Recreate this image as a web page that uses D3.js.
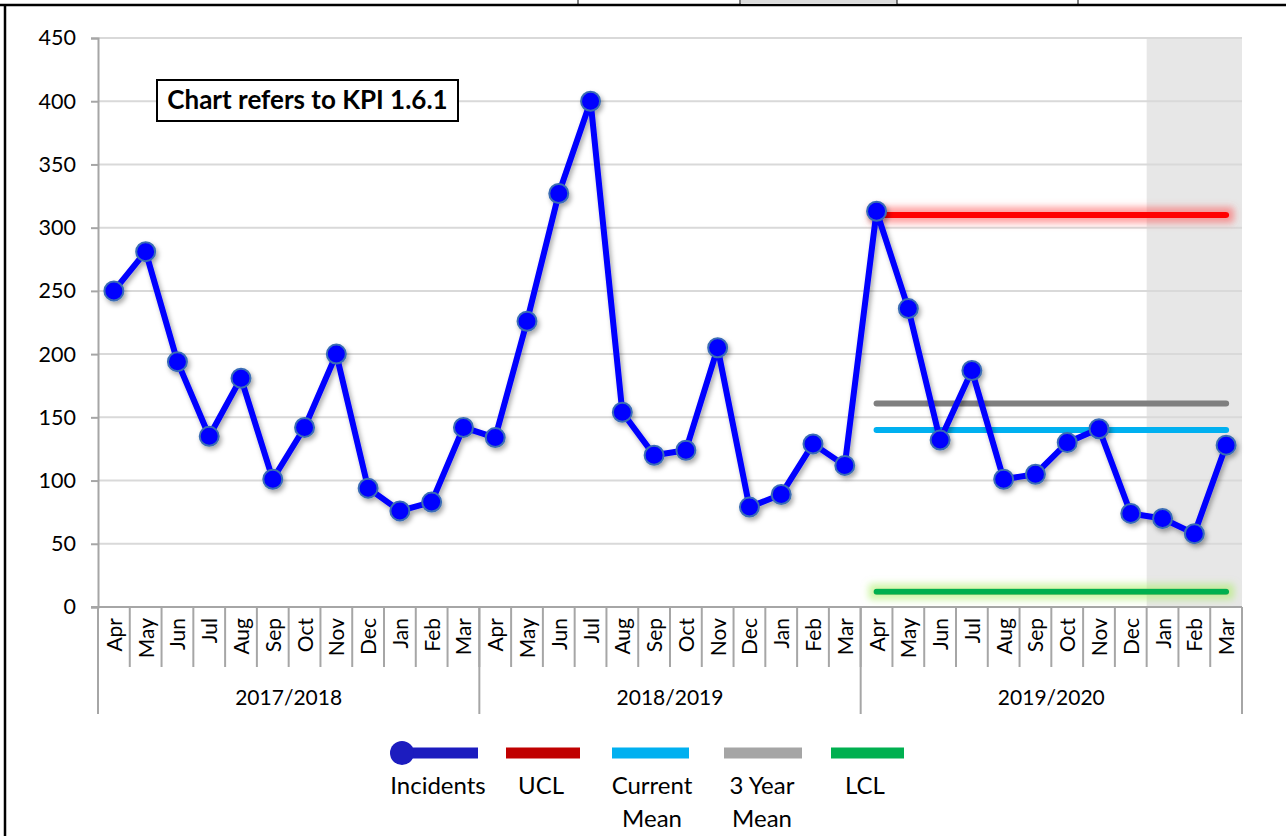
<!DOCTYPE html>
<html>
<head>
<meta charset="utf-8">
<script src="https://cdn.jsdelivr.net/npm/d3@7"></script>
<style>
  body { margin: 0; background: #fff; }
  text { font-family: Lato, "Noto Sans", sans-serif; fill: #000; }
</style>
</head>
<body>
<div class="Chart"></div>
<script>
// SPC chart - monthly incidents with control limits

let months = ["Apr","May","Jun","Jul","Aug","Sep","Oct","Nov","Dec","Jan","Feb","Mar"];
let years = ["2017/2018", "2018/2019", "2019/2020"];

let incidents = [
  250, 281, 194, 135, 181, 101, 142, 200, 94, 76, 83, 142,
  134, 226, 327, 400, 154, 120, 124, 205, 79, 89, 129, 112,
  313, 236, 132, 187, 101, 105, 130, 141, 74, 70, 58, 128
];

let ucl = 310;
let currentMean = 140;
let threeYearMean = 161;
let lcl = 12;

let yTicks = [0, 50, 100, 150, 200, 250, 300, 350, 400, 450];

let legendItems = ["Incidents", "UCL", "Current Mean", "3 Year Mean", "LCL"];

let svgWidth = 1286;
let svgHeight = 836;

let margin = { top: 38, left: 98, right: 44, bottom: 229 };
let width = svgWidth - margin.left - margin.right;
let height = svgHeight - margin.top - margin.bottom;

let svg = d3.select(".Chart")
  .append("svg")
  .attr("width", svgWidth)
  .attr("height", svgHeight);

// filters for the shadows / glows
let defs = svg.append("defs");
let shadow = defs.append("filter").attr("id", "shadow")
  .attr("filterUnits", "userSpaceOnUse")
  .attr("x", 0).attr("y", 0).attr("width", svgWidth).attr("height", svgHeight);
shadow.append("feDropShadow")
  .attr("dx", 2).attr("dy", 3).attr("stdDeviation", 2.5)
  .attr("flood-color", "#000").attr("flood-opacity", 0.35);

function glow(id, color) {
  let f = defs.append("filter").attr("id", id)
    .attr("filterUnits", "userSpaceOnUse")
    .attr("x", -100).attr("y", -100).attr("width", svgWidth + 200).attr("height", svgHeight + 200);
  f.append("feMorphology").attr("in", "SourceAlpha").attr("operator", "dilate").attr("radius", 5).attr("result", "d");
  f.append("feGaussianBlur").attr("in", "d").attr("stdDeviation", 3.5).attr("result", "b");
  f.append("feFlood").attr("flood-color", color).attr("flood-opacity", 0.55);
  f.append("feComposite").attr("in2", "b").attr("operator", "in").attr("result", "g");
  let m = f.append("feMerge");
  m.append("feMergeNode").attr("in", "g");
  m.append("feMergeNode").attr("in", "SourceGraphic");
}
glow("glowRed", "#ff5050");
glow("glowGreen", "#a8ee60");

// outer sheet borders (the chart sits in a spreadsheet cell)
svg.append("line").attr("x1", 0).attr("x2", svgWidth).attr("y1", 5).attr("y2", 5)
  .attr("stroke", "#000").attr("stroke-width", 2.5);
svg.append("rect").attr("x", 741).attr("y", 0).attr("width", 156).attr("height", 4).attr("fill", "#dcdcdc");
[578, 740, 897, 1078].forEach(x => {
  svg.append("line").attr("x1", x).attr("x2", x).attr("y1", 0).attr("y2", 5)
    .attr("stroke", "#000").attr("stroke-width", 1);
});
svg.append("line").attr("x1", 5).attr("x2", 5).attr("y1", 5).attr("y2", svgHeight)
  .attr("stroke", "#000").attr("stroke-width", 2.5);

let Chart = svg.append("g")
  .attr("transform", `translate(${margin.left}, ${margin.top})`);

let cats = d3.range(incidents.length);
let xScale = d3.scaleBand().domain(cats).range([0, width]);
let yScale = d3.scaleLinear().domain([0, 450]).range([height, 0]);
let cx = i => xScale(i) + xScale.bandwidth() / 2;

// shaded future months (Jan - Mar 2020)
Chart.append("rect")
  .attr("x", xScale(33))
  .attr("y", 0)
  .attr("width", width - xScale(33))
  .attr("height", height)
  .attr("fill", "#e7e7e7");

// gridlines
Chart.append("g")
  .selectAll("line")
  .data(yTicks.filter(d => d > 0))
  .enter()
  .append("line")
  .attr("x1", 0).attr("x2", width)
  .attr("y1", d => yScale(d)).attr("y2", d => yScale(d))
  .attr("stroke", "#d9d9d9").attr("stroke-width", 2);

// y axis
let yAxis = d3.axisLeft(yScale).tickValues(yTicks).tickSize(7).tickPadding(15);
let yG = Chart.append("g").call(yAxis);
yG.select(".domain").attr("stroke", "#a6a6a6").attr("stroke-width", 2);
yG.selectAll(".tick line").attr("stroke", "#a6a6a6").attr("stroke-width", 2);
yG.selectAll("text").attr("font-size", "21.5px").attr("fill", "#000");

// x axis: month ticks + year groups
Chart.append("line").attr("x1", -7).attr("x2", width).attr("y1", height).attr("y2", height)
  .attr("stroke", "#a6a6a6").attr("stroke-width", 2);

Chart.append("g").selectAll("line")
  .data(cats.slice(1))
  .enter()
  .append("line")
  .attr("x1", d => xScale(d)).attr("x2", d => xScale(d))
  .attr("y1", height).attr("y2", height + 60)
  .attr("stroke", "#a6a6a6").attr("stroke-width", 2);

Chart.append("g").selectAll("line")
  .data([0, 12, 24, 36])
  .enter()
  .append("line")
  .attr("x1", d => d === 36 ? width : xScale(d)).attr("x2", d => d === 36 ? width : xScale(d))
  .attr("y1", height).attr("y2", height + 107)
  .attr("stroke", "#a6a6a6").attr("stroke-width", 2);

Chart.append("g").selectAll("text")
  .data(cats)
  .enter()
  .append("text")
  .attr("transform", d => `translate(${cx(d) + 8}, ${height + 11})rotate(-90)`)
  .attr("text-anchor", "end")
  .attr("font-size", "21px")
  .text(d => months[d % 12]);

Chart.append("g").selectAll("text")
  .data(years)
  .enter()
  .append("text")
  .attr("x", (d, i) => (xScale(i * 12) + (i === 2 ? width : xScale(i * 12 + 12))) / 2)
  .attr("y", height + 98)
  .attr("text-anchor", "middle")
  .attr("font-size", "21px")
  .text(d => d);

// control lines across 2019/2020
let limitLine = (value, color, filter) => {
  Chart.append("line")
    .attr("x1", cx(24)).attr("x2", cx(35))
    .attr("y1", yScale(value)).attr("y2", yScale(value))
    .attr("stroke", color).attr("stroke-width", 6).attr("stroke-linecap", "round")
    .attr("filter", filter ? `url(#${filter})` : null);
};
limitLine(ucl, "#ff0000", "glowRed");
limitLine(threeYearMean, "#7f7f7f");
limitLine(currentMean, "#00b0f0");
limitLine(lcl, "#00b050", "glowGreen");

// incidents series
let line = d3.line().x((d, i) => cx(i)).y(d => yScale(d));
let series = Chart.append("g").attr("filter", "url(#shadow)");
series.append("path")
  .datum(incidents)
  .attr("d", line)
  .attr("fill", "none")
  .attr("stroke", "#0000ff")
  .attr("stroke-width", 6)
  .attr("stroke-linejoin", "round");
series.selectAll("circle")
  .data(incidents)
  .enter()
  .append("circle")
  .attr("cx", (d, i) => cx(i))
  .attr("cy", d => yScale(d))
  .attr("r", 9.5)
  .attr("fill", "#0000ff")
  .attr("stroke", "#3b6db5")
  .attr("stroke-width", 2);

// KPI note box
let note = Chart.append("g").attr("transform", "translate(59, 42)");
note.append("rect").attr("width", 301).attr("height", 41)
  .attr("fill", "#fff").attr("stroke", "#000").attr("stroke-width", 2);
note.append("text").attr("x", 150.5).attr("y", 29)
  .attr("text-anchor", "middle")
  .attr("font-size", "26px").attr("font-weight", "bold")
  .text("Chart refers to KPI 1.6.1");

// legend
let legendColors = ["#1c1cbf", "#c00000", "#00b0f0", "#a5a5a5", "#00b050"];
let legendX = [402, 506, 612, 724, 831];
let legendW = [76, 74, 77, 78, 73];
let legendLabelX = [438, 541, 652, 762, 865];
let legend = svg.append("g");
legendItems.forEach((name, i) => {
  legend.append("line")
    .attr("x1", legendX[i]).attr("x2", legendX[i] + legendW[i])
    .attr("y1", 753).attr("y2", 753)
    .attr("stroke", legendColors[i]).attr("stroke-width", 11);
  if (i === 0) {
    legend.append("circle").attr("cx", legendX[i]).attr("cy", 753).attr("r", 12)
      .attr("fill", legendColors[i]);
  }
  let words = name === "Current Mean" ? ["Current", "Mean"] : name === "3 Year Mean" ? ["3 Year", "Mean"] : [name];
  let t = legend.append("text")
    .attr("x", legendLabelX[i])
    .attr("y", 794)
    .attr("text-anchor", "middle")
    .attr("font-size", "24px")
    .attr("fill", "#1a1a1a");
  words.forEach((w, j) => {
    t.append("tspan").attr("x", legendLabelX[i])
      .attr("dy", j === 0 ? 0 : 33).text(w);
  });
});
</script>
</body>
</html>
